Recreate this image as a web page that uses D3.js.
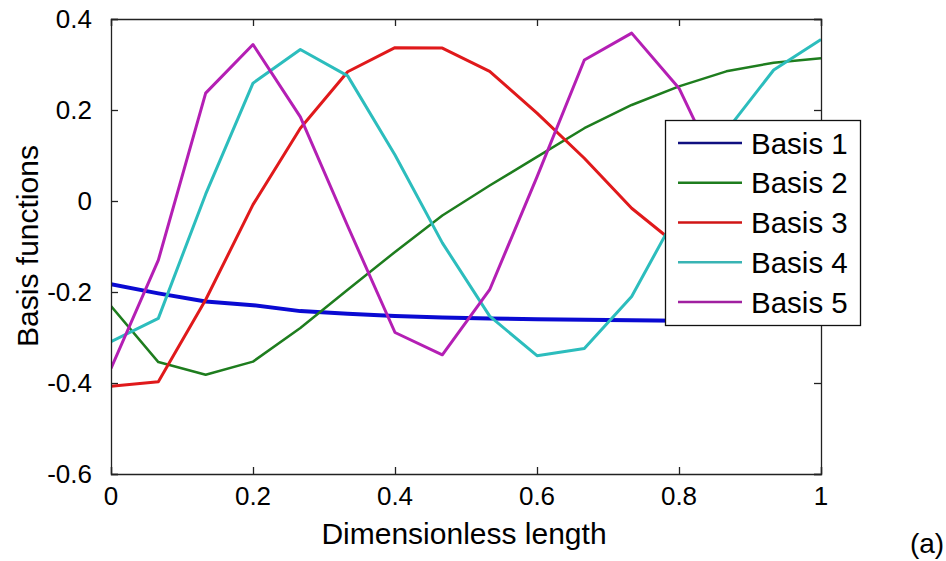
<!DOCTYPE html>
<html>
<head>
<meta charset="utf-8">
<script src="https://cdn.jsdelivr.net/npm/d3@7"></script>
<style>
  html, body { margin: 0; padding: 0; background: #fff; }
  svg { display: block; }
  text { font-family: Arial, "Liberation Sans", sans-serif; fill: #000; }
</style>
</head>
<body>
<svg id="chart" width="946" height="561"></svg>
<script>
// Sample positions along the length (16 nodes, step 1/15)
const xs = d3.range(16).map(i => i / 15);

const seriesNames = ["Basis 1", "Basis 2", "Basis 3", "Basis 4", "Basis 5"];

const basis1 = [-0.183, -0.203, -0.221, -0.229, -0.242, -0.248, -0.253, -0.256,
                -0.258, -0.260, -0.261, -0.262, -0.263, -0.264, -0.264, -0.265];
const basis2 = [-0.231, -0.354, -0.382, -0.353, -0.279, -0.195, -0.112, -0.032,
                 0.034,  0.097,  0.160,  0.211,  0.252,  0.285,  0.304,  0.314];
const basis3 = [-0.407, -0.397, -0.217, -0.008,  0.160,  0.284,  0.337,  0.336,
                 0.285,  0.193,  0.094, -0.016, -0.100, -0.170, -0.220, -0.250];
const basis4 = [-0.309, -0.258,  0.015,  0.259,  0.333,  0.275,  0.101, -0.092,
                -0.253, -0.340, -0.324, -0.210, -0.020,  0.154,  0.288,  0.355];
const basis5 = [-0.368, -0.130,  0.237,  0.344,  0.185, -0.055, -0.289, -0.338,
                -0.195,  0.053,  0.310,  0.369,  0.248,  0.030, -0.180, -0.260];

const xTicks = [0, 0.2, 0.4, 0.6, 0.8, 1];
const xTickLabels = ["0", "0.2", "0.4", "0.6", "0.8", "1"];
const yTicks = [-0.6, -0.4, -0.2, 0, 0.2, 0.4];
const yTickLabels = ["-0.6", "-0.4", "-0.2", "0", "0.2", "0.4"];

const xLabel = "Dimensionless length";
const yLabel = "Basis functions";
const panelTag = "(a)";

const colors = ["#0a0ad2", "#1e7d1e", "#e0191b", "#2cbdbd", "#b41fb4"];
const legendColors = ["#101080", "#1e7d1e", "#d01515", "#38b4b4", "#a020a0"];
const widths = [4, 2.5, 3, 3, 3];

const allSeries = [basis1, basis2, basis3, basis4, basis5];

const svg = d3.select("#chart");
const plot = { left: 111, right: 821, top: 19, bottom: 474 };

const x = d3.scaleLinear().domain([0, 1]).range([plot.left, plot.right]);
const y = d3.scaleLinear().domain([-0.6, 0.4]).range([plot.bottom, plot.top]);

// clip so the curves stay inside the axes box
svg.append("defs").append("clipPath").attr("id", "plotClip")
  .append("rect")
  .attr("x", plot.left).attr("y", plot.top)
  .attr("width", plot.right - plot.left).attr("height", plot.bottom - plot.top);

// curves
const line = d3.line().x((d, i) => x(xs[i])).y(d => y(d));
const curves = svg.append("g").attr("clip-path", "url(#plotClip)");
allSeries.forEach((s, k) => {
  curves.append("path")
    .datum(s)
    .attr("d", line)
    .attr("fill", "none")
    .attr("stroke", colors[k])
    .attr("stroke-width", widths[k])
    .attr("stroke-linejoin", "round");
});

// axes box with inward ticks on all four sides
const tickLen = 7;
const axisColor = "#222";
const bottomAxis = d3.axisBottom(x).tickValues(xTicks).tickSize(-tickLen).tickFormat("");
const topAxis = d3.axisTop(x).tickValues(xTicks).tickSize(-tickLen).tickFormat("");
const leftAxis = d3.axisLeft(y).tickValues(yTicks).tickSize(-tickLen).tickFormat("");
const rightAxis = d3.axisRight(y).tickValues(yTicks).tickSize(-tickLen).tickFormat("");

function styleAxis(g) {
  g.selectAll("path.domain").attr("stroke", axisColor).attr("stroke-width", 1.3);
  g.selectAll(".tick line").attr("stroke", axisColor).attr("stroke-width", 1.3);
}
svg.append("g").attr("transform", `translate(0,${plot.bottom})`).call(bottomAxis).call(styleAxis);
svg.append("g").attr("transform", `translate(0,${plot.top})`).call(topAxis).call(styleAxis);
svg.append("g").attr("transform", `translate(${plot.left},0)`).call(leftAxis).call(styleAxis);
svg.append("g").attr("transform", `translate(${plot.right},0)`).call(rightAxis).call(styleAxis);

// tick labels
svg.append("g").selectAll("text").data(xTicks).join("text")
  .attr("x", d => x(d))
  .attr("y", plot.bottom + 22)
  .attr("text-anchor", "middle")
  .attr("dominant-baseline", "central")
  .attr("font-size", 26)
  .text((d, i) => xTickLabels[i]);

svg.append("g").selectAll("text").data(yTicks).join("text")
  .attr("x", plot.left - 19)
  .attr("y", d => y(d))
  .attr("text-anchor", "end")
  .attr("dominant-baseline", "central")
  .attr("font-size", 26)
  .text((d, i) => yTickLabels[i]);

// axis titles
svg.append("text")
  .attr("x", 464)
  .attr("y", 533)
  .attr("text-anchor", "middle")
  .attr("dominant-baseline", "central")
  .attr("font-size", 30)
  .text(xLabel);

svg.append("text")
  .attr("transform", "translate(27,246) rotate(-90)")
  .attr("text-anchor", "middle")
  .attr("dominant-baseline", "central")
  .attr("font-size", 30)
  .text(yLabel);

// legend
const legend = svg.append("g");
legend.append("rect")
  .attr("x", 665.5).attr("y", 120.5)
  .attr("width", 195).attr("height", 205)
  .attr("fill", "#fff")
  .attr("stroke", "#111").attr("stroke-width", 1.3);
const rowY = d3.scalePoint().domain(seriesNames).range([143, 302]);
seriesNames.forEach((name, k) => {
  legend.append("line")
    .attr("x1", 678).attr("x2", 742)
    .attr("y1", rowY(name)).attr("y2", rowY(name))
    .attr("stroke", legendColors[k]).attr("stroke-width", 2.4);
  legend.append("text")
    .attr("x", 751).attr("y", rowY(name))
    .attr("dominant-baseline", "central")
    .attr("font-size", 29.5)
    .text(name);
});

// panel tag
svg.append("text")
  .attr("x", 927).attr("y", 543)
  .attr("text-anchor", "middle")
  .attr("dominant-baseline", "central")
  .attr("font-family", "'Times New Roman', 'Liberation Serif', serif")
  .attr("font-size", 28)
  .text(panelTag);
</script>
</body>
</html>
